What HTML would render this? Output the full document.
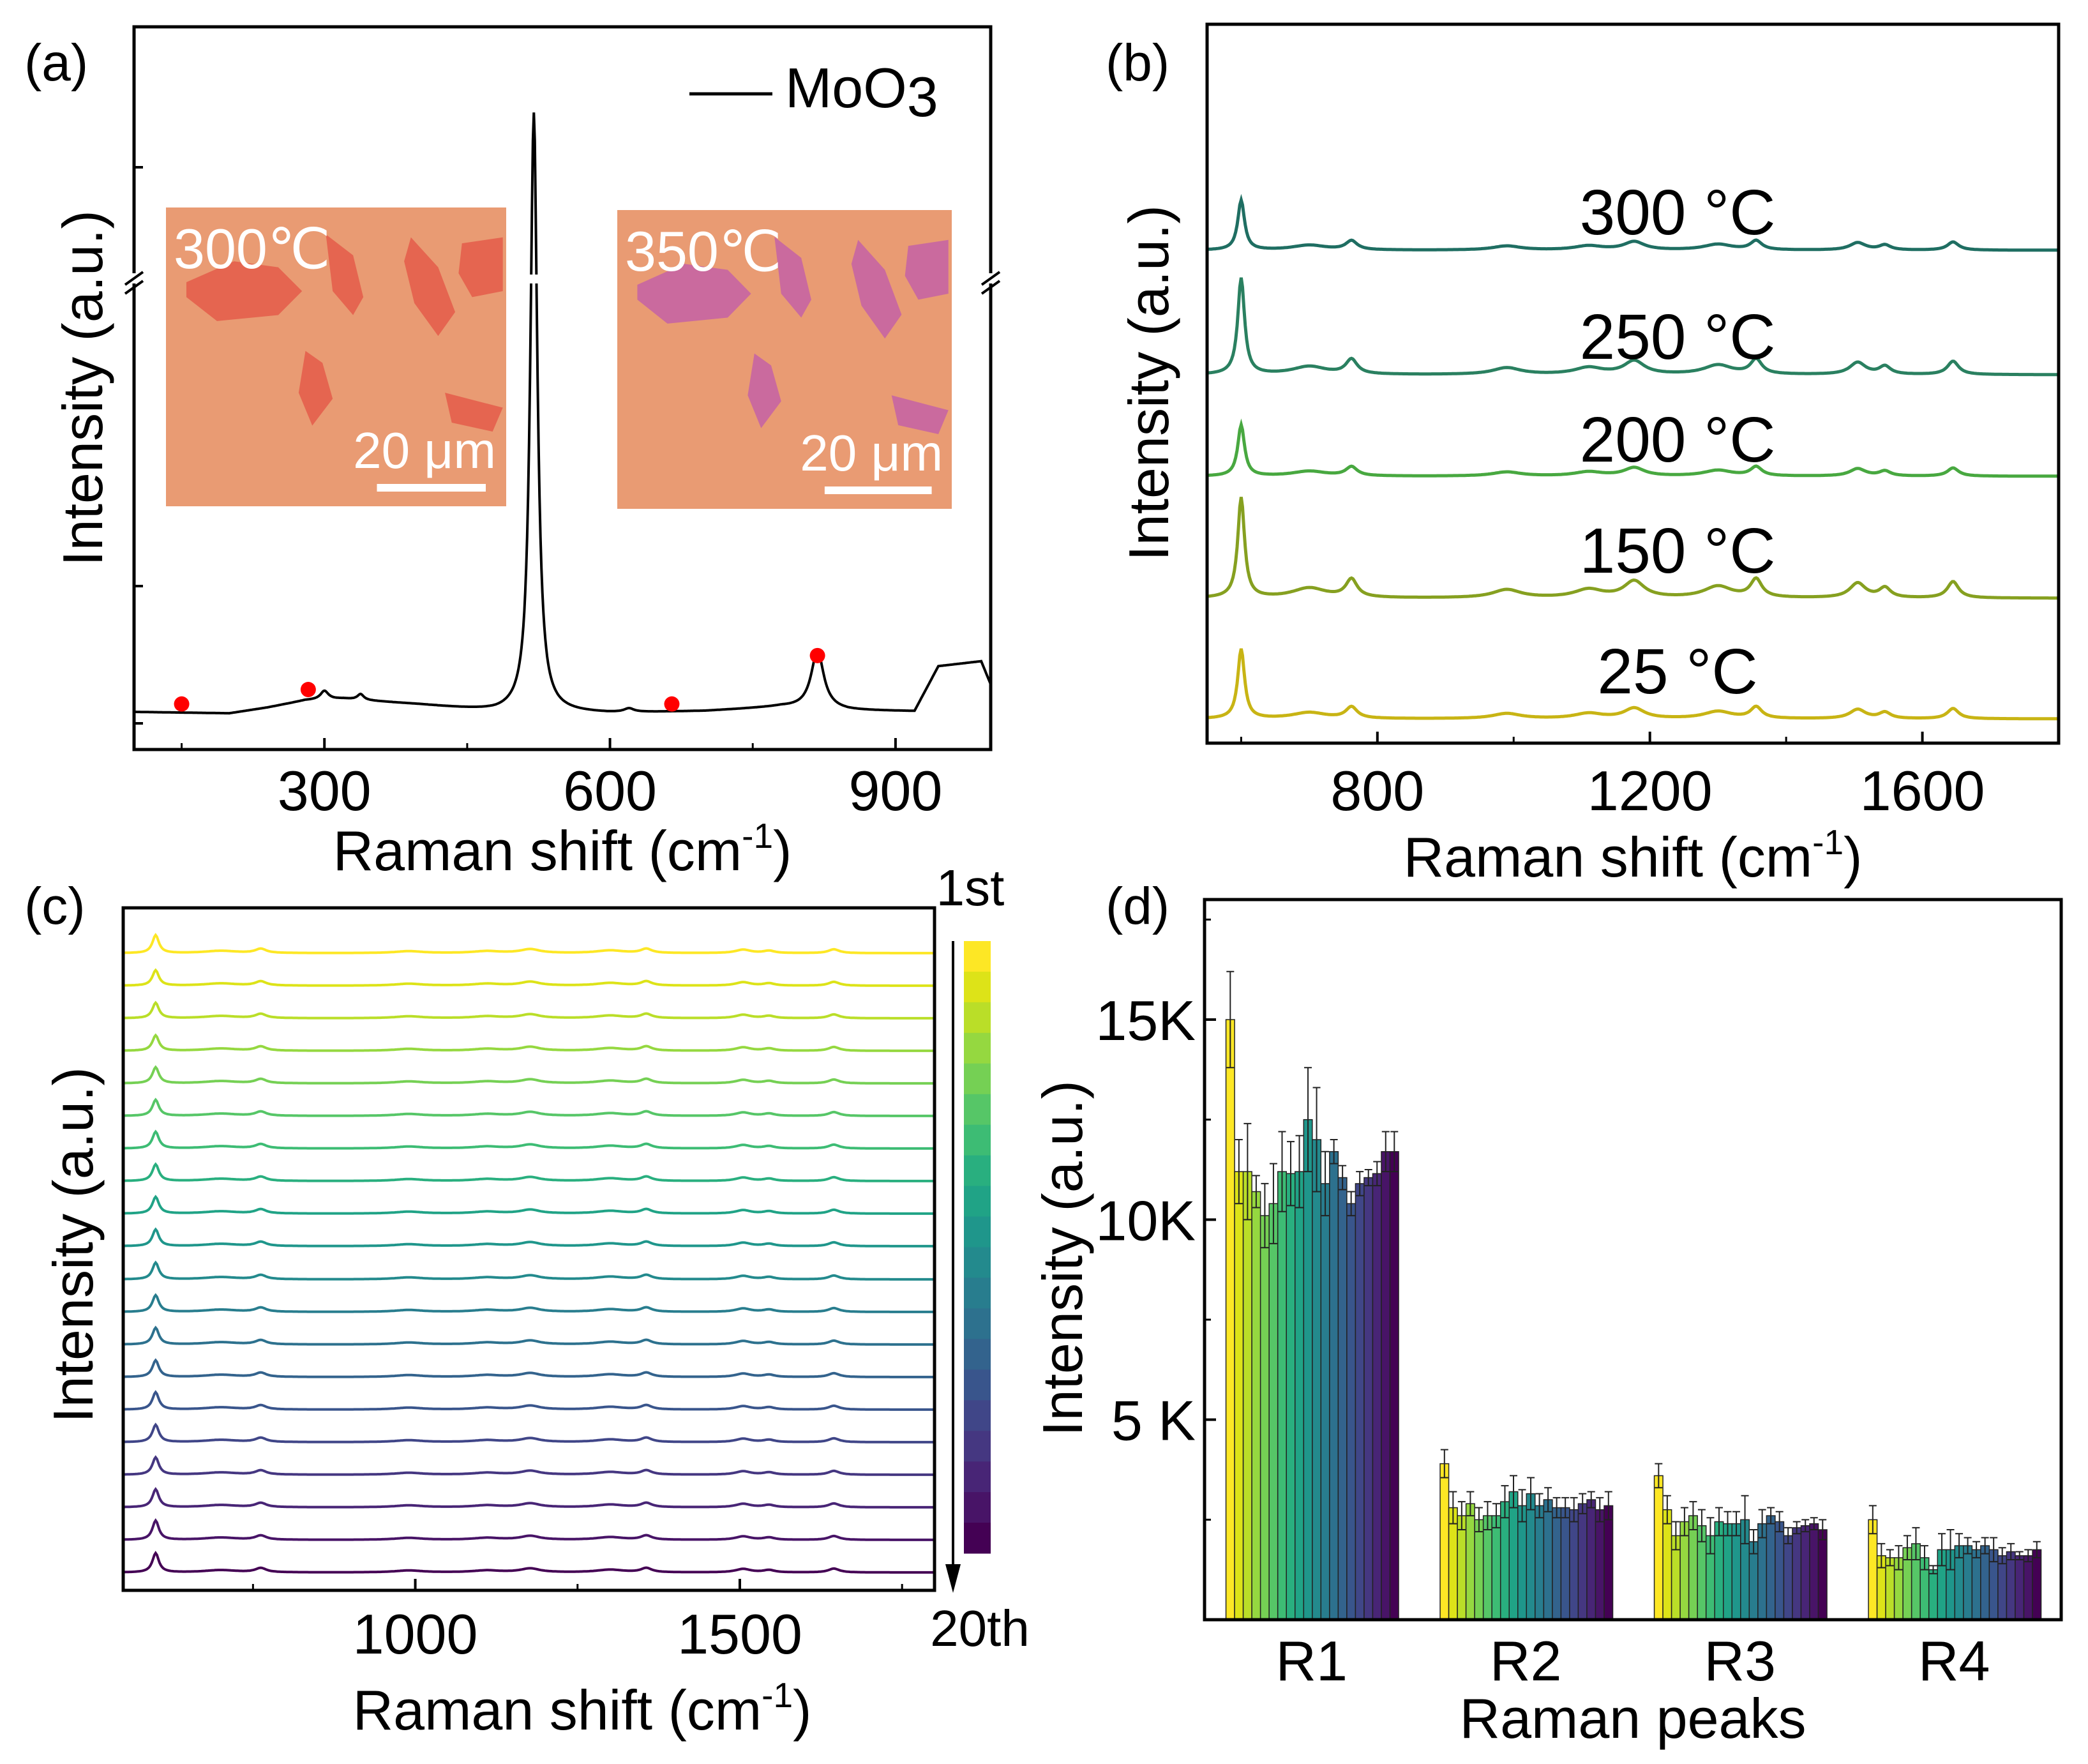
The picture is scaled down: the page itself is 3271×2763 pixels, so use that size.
<!DOCTYPE html>
<html><head><meta charset="utf-8">
<style>
html,body{margin:0;padding:0;background:#fff;}
svg{display:block;font-family:"Liberation Sans",Arial,sans-serif;}
</style></head>
<body>
<svg id="fig" width="3271" height="2763" viewBox="0 0 3271 2763" xmlns="http://www.w3.org/2000/svg">
<g id="pa"></g>
<g id="pb"></g>
<g id="pc"></g>
<g id="pd"></g>
</svg>
<script>
// ---------- DATA ----------
// Panel a: MoO3 spectrum (baseline knots + peaks)
const aBaseX = [100,200,240,280,320,400,480,600,700,780,850,920,945,990,1000];
const aBaseY = [5.2,5.0,5.8,6.8,7.0,6.2,5.2,5.0,5.3,5.9,5.4,5.3,11.5,12.2,9.0];
const aPeakPos = [300,338,520,620,818];
const aPeakHt = [1.2,0.8,83,0.5,8.0];
const aPeakWd = [5,4,4.5,6,8];
const aDotsX = [150,283,665,818];
const aDotsY = [6.3,8.3,6.3,13.0];
const aTicks = [300,600,900];

// Panel b: temperature spectra
const bLabels = ["25 °C","150 °C","200 °C","250 °C","300 °C"];
const bColors = ["#c8b414","#86a020","#48a840","#2a8060","#1f6e62"];
const bOffsets = [38,227,418,577,772];
const bMainHt = [109,157,80,151,78];
const bSmallScale = [1.0,1.6,0.8,1.3,0.8];
const bPeakPos = [600,762,1177,1356,1505,1545,1645,700,990,1110,1300];
const bPeakRel = [1,0.22,0.2,0.22,0.18,0.12,0.2,0.12,0.1,0.1,0.14];
const bPeakWd = [6,10,18,10,14,10,10,30,25,25,25];
const bTicks = [800,1200,1600];

// Panel c: 20 repeated measurements (baseline offsets from axis bottom)
const cOffsets = [998,947,896,845,794,743,692,641,590,539,487,436,385,334,283,232,181,130,79,28];
const cMainHt = [28,24,24,24,25,25,26,26,26,26,26,26,26,26,27,27,27,28,30,30];
const cTicks = [1000,1500];

// Panel d: bar chart
const dCats = ["R1","R2","R3","R4"];
const dR1 = [15.0,11.2,11.2,10.7,10.1,10.4,11.2,11.15,11.2,12.5,12.0,10.9,11.7,11.05,10.4,10.9,11.05,11.15,11.7,11.7];
const dR2 = [3.9,2.8,2.6,2.9,2.5,2.6,2.6,2.95,3.2,2.85,3.15,2.85,3.0,2.8,2.8,2.75,2.9,3.0,2.75,2.85];
const dR3 = [3.6,2.75,2.1,2.45,2.6,2.35,2.1,2.45,2.4,2.4,2.5,1.95,2.4,2.6,2.45,2.1,2.3,2.35,2.4,2.25];
const dR4 = [2.5,1.6,1.55,1.55,1.8,1.9,1.55,1.25,1.75,1.75,1.85,1.85,1.75,1.85,1.75,1.6,1.7,1.6,1.6,1.75];
const dE1 = [1.2,0.8,1.2,0.4,0.8,1.0,1.0,0.8,0.9,1.3,1.3,0.8,0.3,0.3,0.3,0.3,0.2,0.3,0.5,0.5];
const dE2 = [0.35,0.4,0.35,0.3,0.3,0.35,0.3,0.4,0.4,0.4,0.4,0.3,0.3,0.25,0.25,0.3,0.25,0.2,0.3,0.35];
const dE3 = [0.3,0.35,0.35,0.35,0.35,0.4,0.45,0.35,0.3,0.3,0.6,0.3,0.35,0.2,0.25,0.2,0.15,0.15,0.15,0.25];
const dE4 = [0.35,0.3,0.2,0.3,0.3,0.4,0.3,0.1,0.4,0.5,0.3,0.2,0.2,0.2,0.3,0.2,0.2,0.1,0.15,0.2];
const dYTicks = [5,10,15];
const dYTickLabels = ["5 K","10K","15K"];

// viridis 20 (1st yellow -> 20th purple)
const vir = ["#fde725","#dde318","#bade28","#95d840","#75d054","#56c667","#3dbc74","#29af7f","#20a386","#1f968b","#238a8d","#287d8e","#2d718e","#33638d","#39558c","#404688","#453781","#482576","#481467","#440154"];
// ---------- HELPERS ----------
const NS="http://www.w3.org/2000/svg";
function mk(parent,tag,attrs,text){const e=document.createElementNS(NS,tag);for(const k in attrs)e.setAttribute(k,attrs[k]);if(text!==undefined)e.textContent=text;parent.appendChild(e);return e;}
function lor(x,p,h,w){const d=(x-p)/w;return h/(1+d*d);}
function interp(x,xs,ys){for(let i=0;i<xs.length-1;i++){if(x>=xs[i]&&x<=xs[i+1]){const t=(x-xs[i])/(xs[i+1]-xs[i]);return ys[i]+t*(ys[i+1]-ys[i]);}}return ys[ys.length-1];}
function txt(g,x,y,s,size,name,anchor,extra){const t=mk(g,'text',Object.assign({x:x,y:y,'font-size':size,'text-anchor':anchor||'middle',fill:'#000'},extra||{}),s);return t;}

// ---------- PANEL A ----------
(function(){
const g=document.getElementById('pa');
const L=210,R=1552,T=42,B=1174;
const X=v=>L+(v-100)/900*(R-L);
const Y=v=>B-v/100*(B-T);
function inset(x0,y0,w,h,flakeCol,name,label){
  const ig=mk(g,'g',{});
  mk(ig,'rect',{x:x0,y:y0,width:w,height:h,fill:'#e99b73'});
  const fl=[[[0.06,0.25],[0.2,0.18],[0.33,0.2],[0.4,0.28],[0.33,0.36],[0.15,0.38],[0.06,0.3]],
   [[0.47,0.09],[0.55,0.16],[0.58,0.3],[0.55,0.36],[0.49,0.28]],
   [[0.72,0.1],[0.8,0.2],[0.85,0.35],[0.8,0.43],[0.73,0.32],[0.7,0.18]],
   [[0.87,0.12],[0.99,0.1],[0.99,0.28],[0.9,0.3],[0.86,0.22]],
   [[0.41,0.48],[0.46,0.52],[0.49,0.64],[0.43,0.73],[0.39,0.62]],
   [[0.82,0.62],[0.99,0.67],[0.96,0.75],[0.84,0.72]]];
  fl.forEach(p=>mk(ig,'polygon',{points:p.map(q=>(x0+q[0]*w)+','+(y0+q[1]*h)).join(' '),fill:flakeCol,opacity:0.85}));
  txt(ig,x0+12,y0+95,label,88,'inset-temperature-label','start',{fill:'#fff'});
  txt(ig,x0+w*0.76,y0+h-60,'20 μm',80,'scale-bar-label','middle',{fill:'#fff'});
  const sb=mk(ig,'rect',{x:x0+w*0.62,y:y0+h-35,width:w*0.32,height:12,fill:'#fff'});
}
inset(260,325,533,468,'#e45c4a','inset-300c','300℃');
inset(967,329,524,468,'#c462a6','inset-350c','350℃');
let d='';for(let v=100;v<=1000;v+=1){let y=interp(v,aBaseX,aBaseY);for(let i=0;i<aPeakPos.length;i++)y+=lor(v,aPeakPos[i],aPeakHt[i],aPeakWd[i]);d+=(v===100?'M':'L')+X(v).toFixed(1)+','+Y(y).toFixed(1);}
const sp=mk(g,'path',{d:d,fill:'none',stroke:'#000','stroke-width':4});
mk(g,'rect',{x:X(520)-20,y:430,width:40,height:14,fill:'#fff'});
aDotsX.forEach((v,i)=>{const c=mk(g,'circle',{cx:X(v),cy:Y(aDotsY[i]),r:12,fill:'#ff0000'});});
const ax=mk(g,'rect',{x:L,y:T,width:R-L,height:B-T,fill:'none',stroke:'#000','stroke-width':5});
[L,R].forEach(x=>{mk(g,'rect',{x:x-12,y:428,width:24,height:16,fill:'#fff'});mk(g,'line',{x1:x-14,y1:446,x2:x+14,y2:426,stroke:'#000','stroke-width':4});mk(g,'line',{x1:x-14,y1:460,x2:x+14,y2:440,stroke:'#000','stroke-width':4});});
aTicks.forEach(v=>{mk(g,'line',{x1:X(v),y1:B,x2:X(v),y2:B-18,stroke:'#000','stroke-width':4});txt(g,X(v),1269,String(v),88,'x-tick-label');});
[150,450,750].forEach(v=>mk(g,'line',{x1:X(v),y1:B,x2:X(v),y2:B-10,stroke:'#000','stroke-width':3}));
[262,918,1133].forEach(y=>mk(g,'line',{x1:L,y1:y,x2:L+14,y2:y,stroke:'#000','stroke-width':4}));
txt(g,881,1363,'',88,'x-axis-title','middle').innerHTML='Raman shift (cm<tspan font-size="55" dy="-35">-1</tspan><tspan dy="35">)</tspan>';
txt(g,0,0,'Intensity (a.u.)',88,'y-axis-title','middle',{transform:'translate(160,608) rotate(-90)'});
txt(g,38,126,'(a)',82,'panel-label-a','start');
const lg=mk(g,'line',{x1:1080,y1:147,x2:1210,y2:147,stroke:'#000','stroke-width':5});
txt(g,1230,168,'',88,'legend-label','start').innerHTML='MoO<tspan dy="14">3</tspan>';
})();

// ---------- PANEL B ----------
(function(){
const g=document.getElementById('pb');
const L=1891,R=3225,T=38,B=1164;
const X=v=>L+(v-550)/1250*(R-L);
const Y=v=>B-v;
for(let k=0;k<bOffsets.length;k++){
  let d='';for(let v=550;v<=1800;v+=2){let y=bOffsets[k];for(let i=0;i<bPeakPos.length;i++){const h=i===0?bMainHt[k]:bPeakRel[i]*80*bSmallScale[k];y+=lor(v,bPeakPos[i],h,bPeakWd[i]);}d+=(v===550?'M':'L')+X(v).toFixed(1)+','+Y(y).toFixed(1);}
  const p=mk(g,'path',{d:d,fill:'none',stroke:bColors[k],'stroke-width':5});
  
  
}
const lblY=[1086,897,723,562,367];
bLabels.forEach((s,k)=>txt(g,2628,lblY[k],s,100,'temperature-label'));
const ax=mk(g,'rect',{x:L,y:T,width:R-L,height:B-T,fill:'none',stroke:'#000','stroke-width':5});
bTicks.forEach(v=>{mk(g,'line',{x1:X(v),y1:B,x2:X(v),y2:B-18,stroke:'#000','stroke-width':4});txt(g,X(v),1269,String(v),88,'x-tick-label');});
[600,1000,1400].forEach(v=>mk(g,'line',{x1:X(v),y1:B,x2:X(v),y2:B-10,stroke:'#000','stroke-width':3}));
txt(g,2558,1373,'',88,'x-axis-title').innerHTML='Raman shift (cm<tspan font-size="55" dy="-35">-1</tspan><tspan dy="35">)</tspan>';
txt(g,0,0,'Intensity (a.u.)',88,'y-axis-title','middle',{transform:'translate(1830,600) rotate(-90)'});
txt(g,1732,126,'(b)',82,'panel-label-b','start');
})();

// ---------- PANEL C ----------
(function(){
const g=document.getElementById('pc');
const L=193,R=1464,T=1422,B=2491;
const X=v=>L+(v-550)/1250*(R-L);
const Y=v=>B-v;
for(let k=0;k<cOffsets.length;k++){
  let d='';for(let v=550;v<=1800;v+=2){let y=cOffsets[k];for(let i=0;i<bPeakPos.length;i++){const h=i===0?cMainHt[k]:bPeakRel[i]*30;y+=lor(v,bPeakPos[i],h,bPeakWd[i]);}d+=(v===550?'M':'L')+X(v).toFixed(1)+','+Y(y).toFixed(1);}
  const p=mk(g,'path',{d:d,fill:'none',stroke:vir[k],'stroke-width':4});
  
  
}
const ax=mk(g,'rect',{x:L,y:T,width:R-L,height:B-T,fill:'none',stroke:'#000','stroke-width':5});
cTicks.forEach(v=>{mk(g,'line',{x1:X(v),y1:B,x2:X(v),y2:B-18,stroke:'#000','stroke-width':4});txt(g,X(v),2590,String(v),88,'x-tick-label');});
[750,1250,1750].forEach(v=>mk(g,'line',{x1:X(v),y1:B,x2:X(v),y2:B-10,stroke:'#000','stroke-width':3}));
txt(g,912,2709,'',88,'x-axis-title').innerHTML='Raman shift (cm<tspan font-size="55" dy="-35">-1</tspan><tspan dy="35">)</tspan>';
txt(g,0,0,'Intensity (a.u.)',88,'y-axis-title','middle',{transform:'translate(145,1950) rotate(-90)'});
txt(g,38,1447,'(c)',82,'panel-label-c','start');
const cb=mk(g,'g',{});
const cT=1474,cB=2433,h=(cB-cT)/20;
vir.forEach((c,i)=>mk(cb,'rect',{x:1510,y:cT+i*h,width:42,height:h+0.5,fill:c}));
mk(g,'line',{x1:1493,y1:1474,x2:1493,y2:2460,stroke:'#000','stroke-width':4});
mk(g,'polygon',{points:'1481,2450 1505,2450 1493,2495',fill:'#000'});
txt(g,1520,1418,'1st',80,'colorbar-label-first');
txt(g,1535,2578,'20th',80,'colorbar-label-last');
})();

// ---------- PANEL D ----------
(function(){
const g=document.getElementById('pd');
const L=1887,R=3229,T=1409,B=2537;
const Y=v=>B-v/18*(B-T);
const band=(R-L)/4, off=band*16/160, bw=band*129/160/20;
const vals=[dR1,dR2,dR3,dR4], errs=[dE1,dE2,dE3,dE4];
vals.forEach((arr,c)=>{
  arr.forEach((v,i)=>{
    const x=L+c*band+off+i*bw;
    const r=mk(g,'rect',{x:x,y:Y(v),width:bw,height:B-Y(v),fill:vir[i],stroke:'#222','stroke-width':1.5});
    
    
    const e=errs[c][i], cx=x+bw/2;
    const eb=mk(g,'path',{d:'M'+cx+','+Y(v-e)+'V'+Y(v+e)+'M'+(cx-6)+','+Y(v+e)+'H'+(cx+6)+'M'+(cx-6)+','+Y(v-e)+'H'+(cx+6),stroke:'#222','stroke-width':2,fill:'none'});
    
    
  });
  txt(g,L+c*band+band/2,2632,dCats[c],88,'x-category-label');
});
const ax=mk(g,'rect',{x:L,y:T,width:R-L,height:B-T,fill:'none',stroke:'#000','stroke-width':5});
dYTicks.forEach((v,i)=>{mk(g,'line',{x1:L,y1:Y(v),x2:L+18,y2:Y(v),stroke:'#000','stroke-width':4});txt(g,1873,Y(v)+32,dYTickLabels[i],88,'y-tick-label','end');});
[2.5,7.5,12.5,17.5].forEach(v=>mk(g,'line',{x1:L,y1:Y(v),x2:L+10,y2:Y(v),stroke:'#000','stroke-width':3}));
txt(g,2558,2722,'Raman peaks',88,'x-axis-title');
txt(g,0,0,'Intensity (a.u.)',88,'y-axis-title','middle',{transform:'translate(1695,1971) rotate(-90)'});
txt(g,1732,1447,'(d)',82,'panel-label-d','start');
})();
</script>
</body></html>
